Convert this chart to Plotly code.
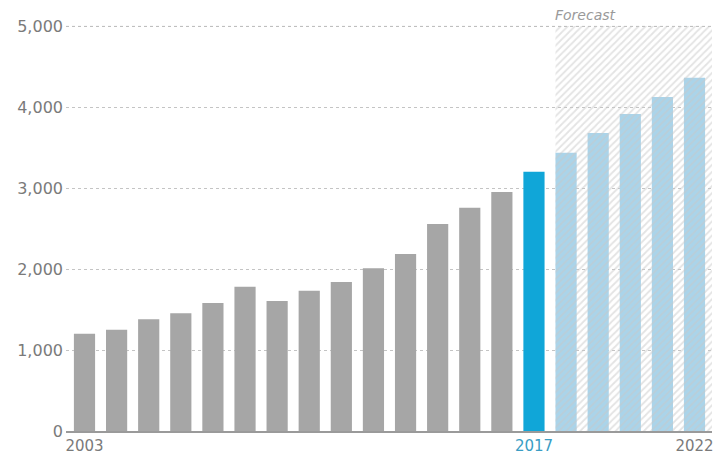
import plotly.graph_objects as go

years = list(range(2003, 2023))
values = [1200, 1250, 1380, 1455, 1580, 1780, 1605, 1730, 1840, 2010,
          2185, 2555, 2755, 2950, 3200, 3435, 3680, 3915, 4125, 4360]
actual_last = 2017
forecast_start = 2018
tick_years = [2003, 2017, 2022]
tick_labels = ["2003", "<span style='color:#3a9dc4'>2017</span>", "2022"]
y_ticks = [0, 1000, 2000, 3000, 4000, 5000]

GRAY = "#a6a6a6"
HIGHLIGHT = "#10a6d8"
FORECAST = "#aad4ea"
FONT = "DejaVu Sans, Lato, sans-serif"

colors = []
for y in years:
    if y < actual_last:
        colors.append(GRAY)
    elif y == actual_last:
        colors.append(HIGHLIGHT)
    else:
        colors.append(FORECAST)

bargap = 0.34
half_bar = (1 - bargap) / 2
x_left = years[0] - 0.576
x_right = years[-1] + 0.545
hatch_x0 = forecast_start - half_bar
y_top = y_ticks[-1]

fig = go.Figure()

# hatched forecast background
fig.add_trace(go.Scatter(
    x=[hatch_x0, x_right, x_right, hatch_x0, hatch_x0],
    y=[0, 0, y_top, y_top, 0],
    mode="lines",
    line=dict(width=0),
    fill="toself",
    fillcolor="rgba(0,0,0,0)",
    fillpattern=dict(shape="/", fgcolor="#c8c8c8", bgcolor="rgba(255,255,255,0)",
                     size=5, solidity=0.35),
    hoverinfo="skip",
    showlegend=False,
))

fig.add_trace(go.Bar(
    x=years, y=values,
    marker=dict(color=colors, line=dict(width=0)),
    showlegend=False,
))

fig.update_layout(
    width=715, height=457,
    margin=dict(l=66, r=3, t=26, b=26),
    paper_bgcolor="white", plot_bgcolor="white",
    bargap=bargap,
    font=dict(family=FONT, size=15, color="#7a7a7a"),
)

# top gridline (edge gridline is not drawn by plotly)
fig.add_shape(
    type="line", xref="paper", yref="paper", x0=0, x1=1, y0=0.999, y1=0.999,
    line=dict(color="#b8b8b8", width=1, dash="dot"), layer="below",
)

fig.add_annotation(
    x=hatch_x0, y=y_top, xref="x", yref="y",
    text="<i>Forecast</i>", showarrow=False,
    xanchor="left", yanchor="bottom", yshift=1, xshift=-2,
    font=dict(family=FONT, size=14, color="#9a9a9a"),
)

fig.update_xaxes(
    range=[x_left, x_right],
    tickmode="array", tickvals=tick_years, ticktext=tick_labels,
    showgrid=False, showline=True, linecolor="#9a9a9a", linewidth=2,
    ticks="", tickfont=dict(family=FONT, size=15, color="#7a7a7a"),
    zeroline=False, automargin=False,
)
fig.update_yaxes(
    range=[0, y_top], tickmode="array", tickvals=y_ticks,
    tickformat=",", showgrid=True, gridcolor="#c4c4c4", griddash="dot",
    gridwidth=1, zeroline=False, ticks="", showline=False,
    tickfont=dict(family=FONT, size=16, color="#7a7a7a"),
    automargin=False, ticklabelstandoff=2,
)

fig.write_html("out.html", config={"displayModeBar": False},
               post_script="document.body.style.margin='0';")
